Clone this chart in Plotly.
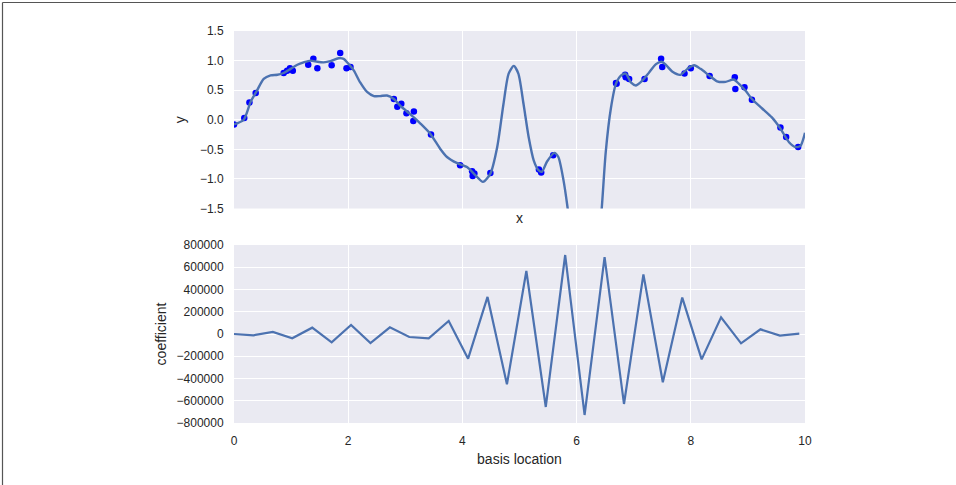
import plotly.graph_objects as go

# ---- data ----
x_data = [0.00, 0.18, 0.27, 0.38, 0.87, 0.93, 0.98, 1.03, 1.30, 1.39, 1.46, 1.71, 1.86, 1.97, 2.04,
          2.80, 2.86, 2.93, 3.02, 3.15, 3.14, 3.45, 3.96, 4.17, 4.18, 4.21, 4.49,
          5.34, 5.38, 5.59, 6.69, 6.70, 6.85, 6.86, 6.92, 7.19, 7.48, 7.50, 7.89, 8.00,
          8.33, 8.77, 8.78, 8.94, 9.07, 9.57, 9.67, 9.88]
y_data = [-0.08, 0.03, 0.29, 0.45, 0.79, 0.83, 0.87, 0.83, 0.93, 1.03, 0.87, 0.92, 1.13, 0.87, 0.89,
          0.35, 0.22, 0.27, 0.11, 0.14, -0.02, -0.25, -0.77, -0.87, -0.95, -0.91, -0.90,
          -0.84, -0.89, -0.60, 0.62, 0.61, 0.76, 0.72, 0.69, 0.69, 1.03, 0.89, 0.78, 0.87,
          0.74, 0.72, 0.52, 0.55, 0.34, -0.13, -0.29, -0.46]

x_fit = [0.00, 0.17, 0.29, 0.39, 0.52, 0.64, 0.76, 0.87, 0.99, 1.11, 1.22, 1.34, 1.46, 1.57, 1.69,
         1.83, 1.92, 2.01, 2.10, 2.21, 2.33, 2.45, 2.56, 2.68, 2.80, 2.91, 3.03, 3.15, 3.26, 3.44,
         3.61, 3.73, 3.90, 4.08, 4.23, 4.36, 4.49, 4.61, 4.72, 4.81, 4.90, 4.98, 5.07, 5.16, 5.25,
         5.33, 5.39, 5.48, 5.61, 5.68, 5.77, 5.84, 5.92, 6.05, 6.15, 6.28, 6.38, 6.44, 6.51, 6.60,
         6.69, 6.78, 6.86, 6.95, 7.04, 7.15, 7.27, 7.39, 7.49, 7.56, 7.68, 7.82, 7.94, 8.06, 8.17,
         8.32, 8.46, 8.61, 8.75, 8.84, 8.96, 9.07, 9.25, 9.42, 9.57, 9.72, 9.83, 9.92, 10.00]
y_fit = [-0.08, 0.00, 0.30, 0.47, 0.69, 0.75, 0.76, 0.79, 0.86, 0.93, 0.97, 1.00, 0.98, 0.97, 0.99,
         1.04, 1.03, 0.94, 0.83, 0.63, 0.47, 0.40, 0.40, 0.41, 0.35, 0.24, 0.14, 0.04, -0.06, -0.24,
         -0.49, -0.63, -0.73, -0.80, -0.94, -1.05, -0.91, -0.46, 0.27, 0.78, 0.91, 0.78, 0.27, -0.29, -0.69,
         -0.85, -0.88, -0.71, -0.56, -0.63, -1.02, -1.47, -2.10, -3.00, -3.30, -3.00, -2.10, -1.50, -0.55, 0.19,
         0.61, 0.75, 0.78, 0.63, 0.58, 0.66, 0.80, 0.94, 0.98, 0.93, 0.81, 0.76, 0.86, 0.92, 0.86,
         0.75, 0.65, 0.64, 0.68, 0.61, 0.49, 0.35, 0.19, 0.04, -0.15, -0.38, -0.46, -0.44, -0.22]

basis_location = [0.00, 0.34, 0.68, 1.02, 1.37, 1.71, 2.05, 2.39, 2.73, 3.07,
                  3.41, 3.76, 4.10, 4.44, 4.78, 5.12, 5.46, 5.80, 6.14, 6.49,
                  6.83, 7.17, 7.51, 7.85, 8.19, 8.53, 8.88, 9.22, 9.56, 9.90]
coefficient = [0, -12000, 18000, -39000, 57000, -75000, 81000, -81000, 60000, -27000,
               -39000, 117000, -222000, 333000, -452000, 566000, -656000, 710000, -728000, 692000,
               -629000, 536000, -434000, 327000, -228000, 150000, -84000, 42000, -15000, 3000]

# ---- style ----
BG = "#EAEAF2"
LINE = "#4C72B0"
TXT = "#262626"
FONT = "Liberation Sans, Arial, sans-serif"

L, R, T, B = 234, 151, 31, 62
W, H = 956, 485
PW, PH = W - L - R, H - T - B


def py(p):  # pixel y -> paper y
    return (H - B - p) / PH


def px(p):  # pixel x -> paper x
    return (p - L) / PW


fig = go.Figure()
fig.add_trace(go.Scatter(x=x_data, y=y_data, mode="markers",
                         marker=dict(color="#0000FF", size=6.5, line=dict(width=0)),
                         xaxis="x", yaxis="y", showlegend=False, cliponaxis=True))
fig.add_trace(go.Scatter(x=x_fit, y=y_fit, mode="lines",
                         line=dict(color=LINE, width=2.4, shape="spline", smoothing=0.7),
                         xaxis="x", yaxis="y", showlegend=False))
fig.add_trace(go.Scatter(x=basis_location, y=coefficient, mode="lines",
                         line=dict(color=LINE, width=2.2),
                         xaxis="x2", yaxis="y2", showlegend=False))

axis_common = dict(showgrid=True, gridcolor="white", gridwidth=1.2, zeroline=False,
                   showline=False, ticks="outside", ticklen=7, tickcolor="rgba(0,0,0,0)",
                   tickfont=dict(family=FONT, size=12, color=TXT))

fig.update_layout(
    width=W, height=H,
    margin=dict(l=L, r=R, t=T, b=B),
    paper_bgcolor="white", plot_bgcolor=BG,
    font=dict(family=FONT, color=TXT),
    xaxis=dict(axis_common, domain=[0, 1], range=[0, 10], dtick=2, anchor="y",
               showticklabels=False, ticklen=0,
               title=dict(text="x", font=dict(family=FONT, size=14, color=TXT), standoff=4)),
    yaxis=dict(axis_common, domain=[py(208.5), 1], range=[-1.5, 1.5], dtick=0.5,
               tickformat=".1f", anchor="x",
               title=dict(text="y", font=dict(family=FONT, size=14, color=TXT), standoff=10)),
    xaxis2=dict(axis_common, domain=[0, 1], range=[0, 10], dtick=2, anchor="y2",
                title=dict(text="basis location", font=dict(family=FONT, size=14, color=TXT), standoff=6)),
    yaxis2=dict(axis_common, domain=[0, py(245)], range=[-800000, 800000], dtick=200000,
                tickformat="d", anchor="x2",
                title=dict(text="coefficient", font=dict(family=FONT, size=14, color=TXT), standoff=6)),
    shapes=[
        dict(type="line", xref="paper", yref="paper", x0=px(2.5), x1=px(956), y0=py(2.5), y1=py(2.5),
             line=dict(color="#555555", width=1.2)),
        dict(type="line", xref="paper", yref="paper", x0=px(2.5), x1=px(2.5), y0=py(2.5), y1=py(485),
             line=dict(color="#555555", width=1.2)),
    ],
)

fig.write_html("out.html", config={"displayModeBar": False},
               post_script="document.body.style.margin='0px';document.body.style.overflow='hidden';")
